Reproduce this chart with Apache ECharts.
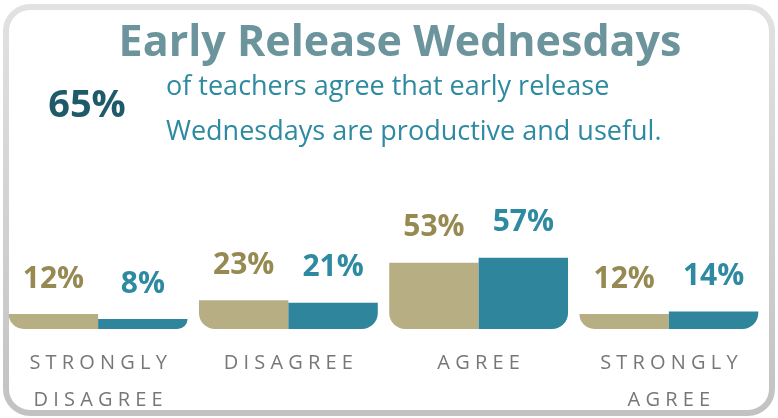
<!DOCTYPE html>
<html>
<head>
<meta charset="utf-8">
<script src="https://cdn.jsdelivr.net/npm/echarts@6/dist/echarts.min.js"></script>
<style>
  html, body { margin: 0; padding: 0; background: #fff; }
  #chart { width: 778px; height: 418px; }
</style>
</head>
<body>
<div id="chart"></div>
<script>
// 資料
const categories = ['STRONGLY DISAGREE', 'DISAGREE', 'AGREE', 'STRONGLY AGREE'];
const tanValues = [12, 23, 53, 12];
const tealValues = [8, 21, 57, 14];
const headline = 'Early Release Wednesdays';
const bigStat = '65%';
const statText = ['of teachers agree that early release', 'Wednesdays are productive and useful.'];

const TAN = '#b8ae84';
const TEAL = '#2f859c';
const FONT = '"Open Sans", "Noto Sans", sans-serif';

// 字距：字母之間加空格，每個單字一行
const spaced = s => s.split(' ').map(w => w.split('').join(' ')).join('\n');

const chart = echarts.init(document.getElementById('chart'));

const option = {
  animation: false,
  backgroundColor: '#fff',
  grid: { left: 3, right: 14, top: 204, bottom: 89, outerBoundsMode: 'none' },
  xAxis: {
    type: 'category',
    data: categories,
    axisLine: { show: false },
    axisTick: { show: false },
    axisLabel: {
      margin: 16,
      color: '#777777',
      fontFamily: FONT,
      fontSize: 20,
      lineHeight: 37,
      formatter: v => spaced(v)
    }
  },
  yAxis: { type: 'value', min: 0, max: 100, show: false },
  series: [
    {
      type: 'bar',
      data: tanValues,
      barGap: '0%',
      barCategoryGap: '6%',
      itemStyle: { color: TAN, borderRadius: [0, 0, 0, 16] },
      label: {
        show: true, position: 'top', distance: 20,
        formatter: '{c}%', color: '#968a52',
        fontFamily: FONT, fontWeight: 'bold', fontSize: 30
      }
    },
    {
      type: 'bar',
      data: tealValues,
      itemStyle: { color: TEAL, borderRadius: [0, 0, 16, 0] },
      label: {
        show: true, position: 'top', distance: 20,
        formatter: '{c}%', color: '#2e8aa0',
        fontFamily: FONT, fontWeight: 'bold', fontSize: 30
      }
    }
  ],
  graphic: [
    {
      type: 'rect', silent: true, z: -1,
      shape: { x: 6, y: 7, width: 766, height: 406, r: 24 },
      style: {
        fill: 'none', lineWidth: 6,
        stroke: new echarts.graphic.LinearGradient(0, 0, 0, 1, [
          { offset: 0, color: '#e2e2e2' },
          { offset: 1, color: '#c2c2c2' }
        ])
      }
    },
    {
      type: 'text', x: 400, y: 44,
      style: {
        text: headline, fill: '#6b949c', font: 'bold 43px ' + FONT,
        textAlign: 'center', textVerticalAlign: 'middle'
      }
    },
    {
      type: 'text', x: 87, y: 106,
      style: {
        text: bigStat, fill: '#1f5a6a', font: 'bold 38px ' + FONT,
        textAlign: 'center', textVerticalAlign: 'middle'
      }
    },
    {
      type: 'text', x: 166, y: 87,
      style: {
        text: statText[0], fill: '#2e8aa0', font: '27px ' + FONT,
        textAlign: 'left', textVerticalAlign: 'middle'
      }
    },
    {
      type: 'text', x: 166, y: 132,
      style: {
        text: statText[1], fill: '#2e8aa0', font: '27px ' + FONT,
        textAlign: 'left', textVerticalAlign: 'middle'
      }
    }
  ]
};

chart.setOption(option);
</script>
</body>
</html>
